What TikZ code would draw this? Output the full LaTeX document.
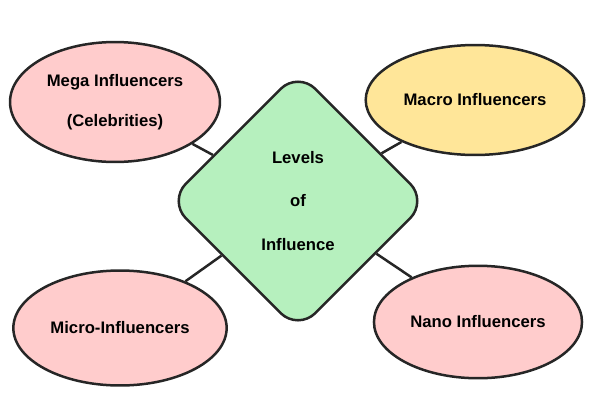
\documentclass[tikz,border=0pt]{standalone}
\usepackage{fontspec}
\setmainfont{Liberation Sans}
\usetikzlibrary{shapes.geometric}
\definecolor{pinkfill}{RGB}{255, 204, 204}
\definecolor{yellowfill}{RGB}{255, 230, 153}
\definecolor{greenfill}{RGB}{182, 240, 190}
\tikzset{
  bubble/.style={ellipse, draw=black!85, line width=0.5mm, align=center,
    font=\fontsize{9.5}{23}\selectfont\bfseries},
  link/.style={draw=black!85, line width=0.5mm}
}
\begin{document}
\begin{tikzpicture}[x=0.02cm, y=-0.02cm]
        \useasboundingbox (0,0) rectangle (600,400);
        % Centre block
        \node (lev) at (298,201) [diamond, rounded corners=14pt, draw=black!85,
        fill=greenfill, line width=0.5mm, minimum width=5.2cm, minimum height=5.2cm,
        align=center, font=\fontsize{9.5}{25}\selectfont\bfseries] {Levels\\of\\Influence};

        % Outer bubbles
        \node (mega) at (115,102) [bubble, fill=pinkfill, minimum width=4.2cm, minimum height=2.4cm] {Mega Influencers\\(Celebrities)};
        \node (macro) at (475,100) [bubble, fill=yellowfill, minimum width=3.6cm, minimum height=2.2cm] {Macro Influencers};
        \node (micro) at (120,328) [bubble, fill=pinkfill, minimum width=4cm, minimum height=2.3cm] {Micro-Influencers};
        \node (nano) at (478,322) [bubble, fill=pinkfill, minimum width=3.8cm, minimum height=2.25cm] {Nano Influencers};

        % Links
        \draw [link] (mega) -- (lev);
        \draw [link] (macro) -- (lev);
        \draw [link] (micro) -- (lev);
        \draw [link] (nano) -- (lev);
\end{tikzpicture}
\end{document}
